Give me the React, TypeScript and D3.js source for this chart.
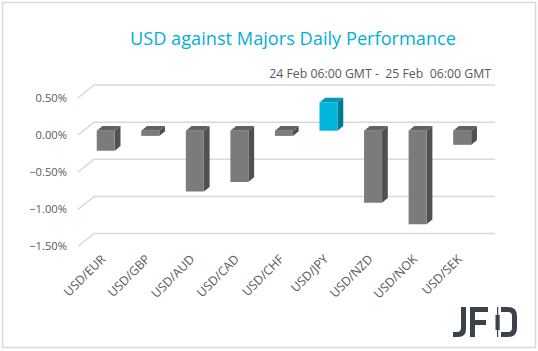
import React from "react";
import * as d3 from "d3";

const categories = ["USD/EUR", "USD/GBP", "USD/AUD", "USD/CAD", "USD/CHF", "USD/JPY", "USD/NZD", "USD/NOK", "USD/SEK"];
const values = [-0.27, -0.07, -0.82, -0.69, -0.07, 0.38, -0.97, -1.26, -0.19];
const yTicks = [0.5, 0, -0.5, -1.0, -1.5];
const title = "USD against Majors Daily Performance";
const subtitle = "24 Feb 06:00 GMT -  25 Feb  06:00 GMT";

const W = 538;
const H = 351;
const DX = 16;
const DY = 13;
const Z0 = 0.34;
const Z1 = 0.7;
const FONT = "'Open Sans', 'Noto Sans', sans-serif";

export default function App() {
  const x = d3.scaleBand<string>().domain(categories).range([78, 479]).padding(0);
  const y = d3.scaleLinear().domain([-1.5, 0.5]).range([246.5, 98]);
  const fmt = (t: number) => d3.format(".2f")(t) + "%";
  const bw = 18;
  const P = (xf: number, v: number, z: number): [number, number] => [xf + DX * z, y(v) - DY * z];
  const poly = (pts: [number, number][]) => pts.map((p) => p.join(",")).join(" ");

  return (
    <svg width={W} height={H} style={{ position: "absolute", left: 0, top: 0, background: "#fff" }}>
      <rect x={2.5} y={2.5} width={533} height={345} fill="#fff" stroke="#d9d9d9" strokeWidth={1.5} />
      <text x={293} y={45} textAnchor="middle" fill="#00b0d8" fontFamily={FONT} fontSize={18.2}>
        {title}
      </text>
      <text x={491} y={78} textAnchor="end" fill="#595959" fontFamily={FONT} fontSize={12.3} style={{ whiteSpace: "pre" }}>
        {subtitle}
      </text>
      {yTicks.map((t) => {
        const a = P(78, t, 0);
        const b = P(78, t, 1);
        const c = P(479, t, 1);
        return (
          <g key={t}>
            <polyline points={poly([a, b, c])} fill="none" stroke="#d9d9d9" strokeWidth={1.5} />
            <text x={67} y={y(t)} dy="0.35em" textAnchor="end" fill="#595959" fontFamily={FONT} fontSize={11.2}>
              {fmt(t)}
            </text>
          </g>
        );
      })}
      {categories.map((c, i) => {
        const v = values[i];
        const cx = (x(c) as number) + x.bandwidth() / 2;
        const l = cx - bw / 2;
        const r = cx + bw / 2;
        const top = Math.max(v, 0);
        const bot = Math.min(v, 0);
        const pos = v > 0;
        const front = pos ? "#00b4dc" : "#7b7b7b";
        const topC = pos ? "#0096b8" : "#626262";
        const side = pos ? "#007a94" : "#505050";
        const fa = P(l, top, Z0);
        const fb = P(r, top, Z0);
        const fc = P(r, bot, Z0);
        const fd = P(l, bot, Z0);
        const ba = P(l, top, Z1);
        const bb = P(r, top, Z1);
        const bc = P(r, bot, Z1);
        return (
          <g key={c}>
            <polygon points={poly([fb, bb, bc, fc])} fill={side} />
            <polygon points={poly([fa, ba, bb, fb])} fill={topC} />
            <polygon points={poly([fa, fb, fc, fd])} fill={front} />
          </g>
        );
      })}
      {categories.map((c) => {
        const cx = (x(c) as number) + x.bandwidth() / 2;
        const ex = cx + 6;
        const ey = 260;
        return (
          <text
            key={c}
            x={ex}
            y={ey}
            textAnchor="end"
            transform={`rotate(-45 ${ex} ${ey})`}
            fill="#595959"
            fontFamily={FONT}
            fontSize={12.3}
          >
            {c}
          </text>
        );
      })}
      <g fill="#3c4249">
        <path d="M461,307 h5 v22 q0,8 -8,8 h-5 v-5 h4 q4,0 4,-4 z" />
        <path d="M470,307 h18 v5 h-13 v8 h11 v5 h-11 v12 h-5 z" />
        <rect x={497} y={307} width={1.2} height={30} />
        <rect x={495.5} y={315} width={4.2} height={15} />
        <path d="M501,307 h7 q9,0 9,9 v12 q0,9 -9,9 h-7 v-5 h7 q4,0 4,-4 v-12 q0,-4 -4,-4 h-7 z" />
      </g>
    </svg>
  );
}
